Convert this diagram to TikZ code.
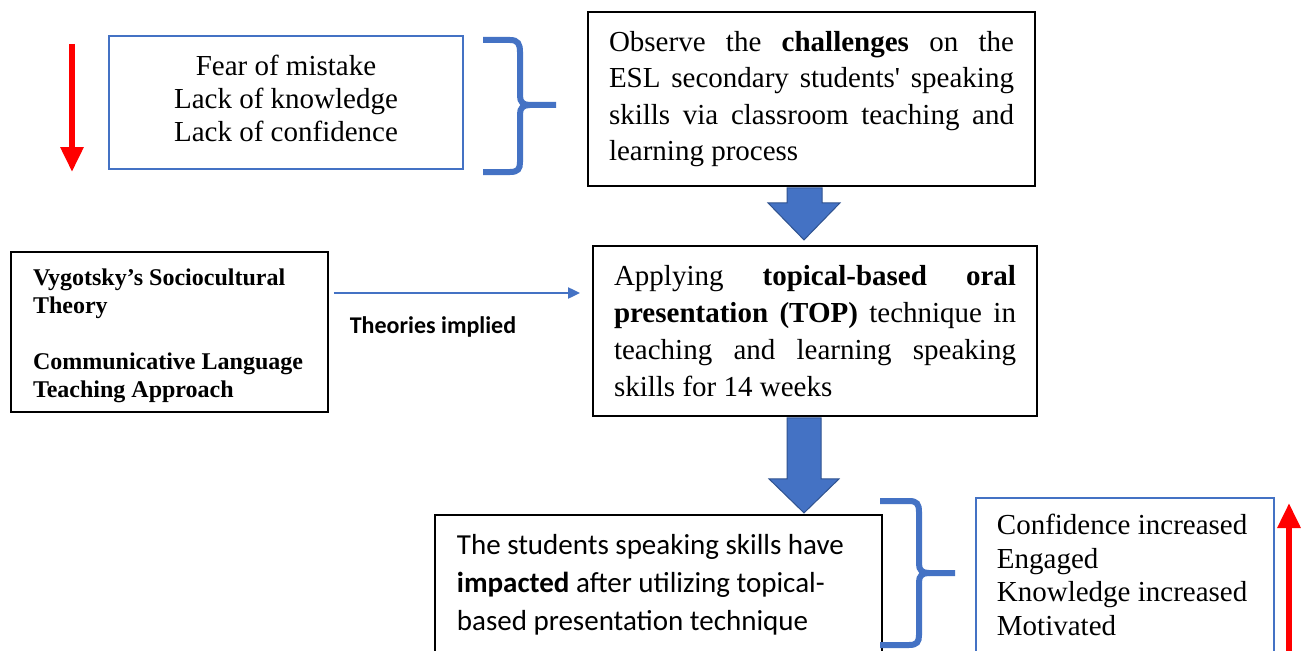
\documentclass[tikz,border=0pt]{standalone}
\usepackage{fontspec}
\setmainfont{Liberation Serif}
\newfontfamily\calibri{Carlito}
\usetikzlibrary{arrows.meta,calc}
\definecolor{myblue}{HTML}{4472C4}
\definecolor{darkblue}{HTML}{2F528F}
\definecolor{myred}{HTML}{FF0000}
\begin{document}
\begin{tikzpicture}[x=1pt,y=-1pt,
  blackbox/.style={draw=black,line width=1.8pt,fill=white,inner xsep=21pt,inner ysep=0pt},
  bluebox/.style={draw=myblue,line width=1.8pt,fill=white,inner xsep=21pt,inner ysep=0pt},
  bracepath/.style={draw=myblue,line width=6pt},
  barrow/.style={fill=myblue,draw=darkblue,line width=1pt},
  redarrow/.style={draw=myred,line width=6pt,-{Triangle[width=22pt,length=25pt]}},
  thinarrow/.style={draw=myblue,line width=2pt,-{Triangle[width=11pt,length=12pt]}}
]
\useasboundingbox (0,0) rectangle (1308,650);
\clip (0,0) rectangle (1308,650);
\fill[white] (0,0) rectangle (1308,650);

% boxes
\node[bluebox, inner sep=0pt, font=\fontsize{29}{33}\selectfont] (fear) at (286,102.5)
  {\parbox[c][133pt][t]{354pt}{\centering\rule{0pt}{40pt}Fear of mistake\\Lack of knowledge\\Lack of confidence}};

\node[blackbox, font=\fontsize{29}{36.5}\selectfont] (obs) at (811.5,99)
  {\parbox[c][174pt][c]{405pt}{\tolerance=9999 \hyphenpenalty=10000 \hbadness=10000
   Observe the \textbf{challenges} on the\linebreak ESL secondary students\textquotesingle{} speaking\linebreak skills via classroom teaching and\linebreak learning process}};

\node[blackbox, font=\fontsize{29}{37}\selectfont] (app) at (815,331)
  {\parbox[c][170pt][c]{402pt}{\tolerance=9999 \hyphenpenalty=10000 \hbadness=10000
   Applying \textbf{topical-based oral}\linebreak \textbf{presentation (TOP)} technique in\linebreak teaching and learning speaking\linebreak skills for 14 weeks}};

\node[blackbox, inner xsep=22pt, font=\bfseries\fontsize{24}{28}\selectfont] (theo) at (169.5,332)
  {\parbox[c][160pt][t]{273pt}{\raggedright\rule{0pt}{33.5pt}Vygotsky’s Sociocultural\\Theory\\[28pt]Communicative Language\\Teaching Approach}};

\node[blackbox, anchor=north west, inner xsep=22pt, font=\calibri\fontsize{29}{38}\selectfont] (stud) at (434,514)
  {\parbox[c][200pt][t]{403pt}{\raggedright\rule{0pt}{40pt}The students speaking skills have\\\textbf{impacted} after utilizing topical-\\based presentation technique}};

\node[bluebox, anchor=north west, font=\fontsize{29}{33.5}\selectfont] (conf) at (975,497)
  {\parbox[c][200pt][t]{256pt}{\raggedright\rule{0pt}{37pt}Confidence increased\\Engaged\\Knowledge increased\\Motivated}};

\node[inner sep=0pt, font=\calibri\bfseries\fontsize{24}{28}\selectfont] (lbl) at (433,327) {Theories implied};

% connectors
\draw[thinarrow] ($(theo.east)+(5,-39)$) -- ($(app.west)+(-12,-38)$);

\filldraw[barrow] ([xshift=-24.5pt,yshift=-1pt]obs.south) -- ++(0,15) -- ++(-19,0) -- ++(36,37) -- ++(36,-37) -- ++(-18,0) -- ++(0,-15) -- cycle;
\filldraw[barrow] ([xshift=-28pt,yshift=-1pt]app.south) -- ++(0,61) -- ++(-18,0) -- ++(35,34) -- ++(35,-34) -- ++(-18,0) -- ++(0,-61) -- cycle;

% braces
\draw[bracepath] (483,40) -- (510,40) .. controls (518,40) and (520,44) .. (520,52) -- (520,96)
   .. controls (520,102) and (523,105) .. (530,105) -- (556,105);
\draw[bracepath] (530,105) .. controls (523,105) and (520,108) .. (520,114) -- (520,162)
   .. controls (520,169) and (518,172) .. (510,172) -- (483,172);

\draw[bracepath] (880,501) -- (909,501) .. controls (917,501) and (919,504) .. (919,512) -- (919,564)
   .. controls (919,570) and (922,573) .. (929,573) -- (955,573);
\draw[bracepath] (929,573) .. controls (922,573) and (919,576) .. (919,582) -- (919,635)
   .. controls (919,642) and (917,645) .. (909,645) -- (880,645);

% red arrows
\draw[redarrow] (72,44) -- (72,172);
\draw[redarrow] (1289,700) -- (1289,503);
\end{tikzpicture}
\end{document}
